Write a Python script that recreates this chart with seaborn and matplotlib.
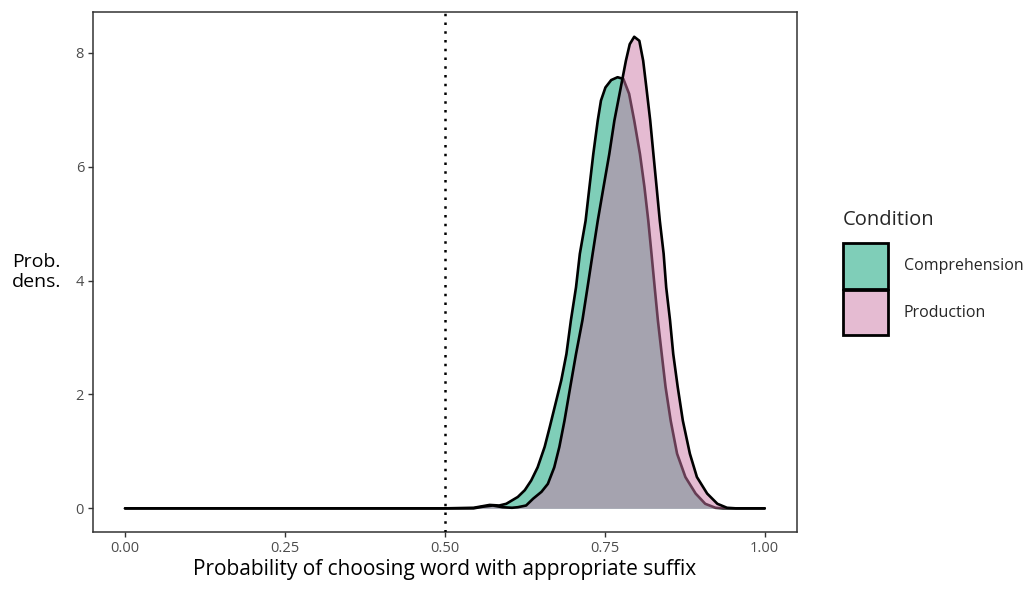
import matplotlib
matplotlib.use("Agg")
import matplotlib.pyplot as plt
import matplotlib.colors as mcolors
import seaborn as sns
import pandas as pd
from matplotlib.patches import Patch

# density curves (x, density)
comp_x = [0.0, 0.50, 0.545, 0.555, 0.57, 0.585, 0.596, 0.614, 0.625, 0.635, 0.645,
          0.656, 0.664, 0.673, 0.682, 0.690, 0.697, 0.705, 0.711, 0.720, 0.726,
          0.732, 0.739, 0.744, 0.751, 0.760, 0.770, 0.779, 0.788, 0.796, 0.805,
          0.812, 0.818, 0.823, 0.828, 0.833, 0.839, 0.845, 0.853, 0.863, 0.876,
          0.892, 0.907, 0.923, 0.935, 1.0]
comp_y = [0.0, 0.0, 0.01, 0.03, 0.06, 0.05, 0.08, 0.20, 0.32, 0.49, 0.72,
          1.08, 1.43, 1.84, 2.25, 2.71, 3.30, 3.88, 4.47, 5.05, 5.64,
          6.22, 6.81, 7.16, 7.39, 7.52, 7.57, 7.54, 7.28, 6.81, 6.22,
          5.64, 5.05, 4.47, 3.88, 3.30, 2.71, 2.13, 1.54, 0.96, 0.55,
          0.26, 0.08, 0.01, 0.0, 0.0]

prod_x = [0.0, 0.545, 0.56, 0.575, 0.59, 0.605, 0.614, 0.627, 0.638, 0.651, 0.661,
          0.671, 0.679, 0.687, 0.696, 0.705, 0.715, 0.723, 0.731, 0.739, 0.748,
          0.757, 0.765, 0.775, 0.783, 0.789, 0.796, 0.804, 0.810, 0.815, 0.821,
          0.826, 0.831, 0.836, 0.842, 0.846, 0.852, 0.857, 0.864, 0.872, 0.883,
          0.894, 0.910, 0.926, 0.941, 0.955, 1.0]
prod_y = [0.0, 0.0, 0.03, 0.05, 0.02, 0.01, 0.02, 0.05, 0.17, 0.29, 0.43,
          0.72, 1.08, 1.54, 2.13, 2.71, 3.30, 3.88, 4.47, 5.05, 5.64,
          6.22, 6.81, 7.39, 7.86, 8.15, 8.28, 8.21, 7.86, 7.39, 6.81,
          6.22, 5.64, 5.05, 4.47, 3.88, 3.30, 2.71, 2.13, 1.54, 0.96,
          0.55, 0.26, 0.08, 0.01, 0.0, 0.0]

conditions = ["Comprehension", "Production"]
colors = {"Comprehension": "#009E73", "Production": "#CC79A7"}
chance = 0.5

df = pd.concat([
    pd.DataFrame({"x": comp_x, "dens": comp_y, "Condition": "Comprehension"}),
    pd.DataFrame({"x": prod_x, "dens": prod_y, "Condition": "Production"}),
])

sns.set_style("white")
plt.rcParams["font.family"] = ["Open Sans", "DejaVu Sans"]

fig = plt.figure(figsize=(10.28, 5.89), dpi=100)
ax = fig.add_axes([0.0905, 0.0968, 0.6845, 0.8828])

for i, cond in enumerate(conditions):
    sub = df[df["Condition"] == cond]
    ax.fill_between(sub["x"], 0, sub["dens"], color=colors[cond], alpha=0.5,
                    linewidth=0, zorder=2 + 2 * i)
    sns.lineplot(data=sub, x="x", y="dens", color="black", linewidth=1.9,
                 ax=ax, zorder=3 + 2 * i, sort=True,
                 solid_joinstyle="round", solid_capstyle="round")

ax.axvline(chance, color="black", linestyle=(0, (1, 2.5)), linewidth=1.8, zorder=10)

ax.set_xlim(-0.05, 1.05)
ax.set_ylim(-0.415, 8.715)
ax.set_xticks([0, 0.25, 0.5, 0.75, 1.0])
ax.set_xticklabels(["0.00", "0.25", "0.50", "0.75", "1.00"])
ax.set_yticks([0, 2, 4, 6, 8])
ax.tick_params(axis="both", which="both", direction="out", length=3.5, width=1.0,
               color="#333333", labelcolor="#4D4D4D", labelsize=10.5, pad=3,
               bottom=True, left=True)
for s in ax.spines.values():
    s.set_color("#333333")
    s.set_linewidth(1.1)

ax.set_xlabel("Probability of choosing word with appropriate suffix", fontsize=15,
              color="black", labelpad=2)
ax.set_ylabel("Prob.\ndens.", fontsize=14, rotation=0, ha="left", va="center",
              color="black", linespacing=1.1)
ax.yaxis.set_label_coords(-0.115, 0.5)

handles = [Patch(facecolor=mcolors.to_rgba(colors[c], 0.5),
                 edgecolor="black", linewidth=2) for c in conditions]
leg = fig.legend(handles, conditions, title="Condition", loc="upper left",
                 bbox_to_anchor=(0.814, 0.655), frameon=False, fontsize=11.5,
                 title_fontsize=14.5, handlelength=2.8, handleheight=3.96,
                 labelspacing=0.12, handletextpad=1.0, alignment="left",
                 borderaxespad=0)
leg._legend_box.sep = 10  # gap between title and keys

fig.savefig("out.png", dpi=100)
